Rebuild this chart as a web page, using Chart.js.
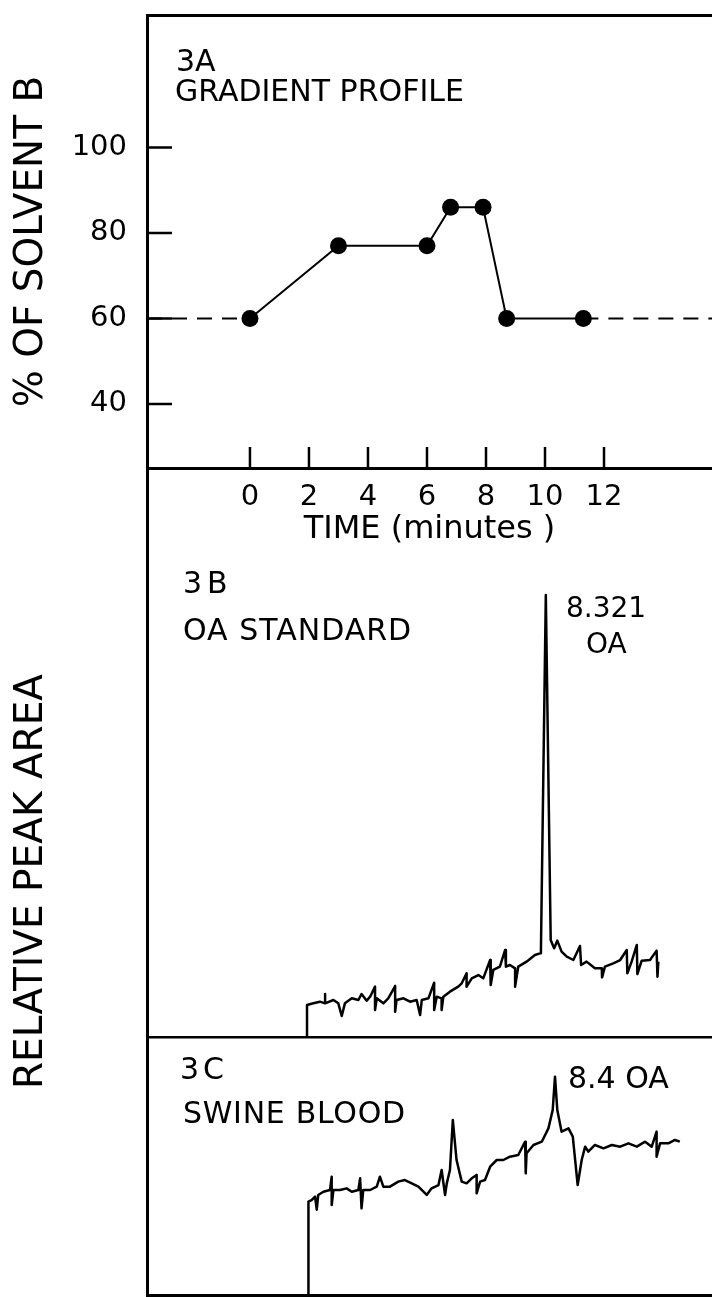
<!DOCTYPE html>
<html>
<head>
<meta charset="utf-8">
<title>Gradient profile and chromatograms</title>
<script src="https://cdn.jsdelivr.net/npm/chart.js@4.4.1/dist/chart.umd.min.js"></script>
<style>
  body { margin: 0; background: #fff; width: 712px; height: 1297px; overflow: hidden; position: relative;
         font-family: 'DejaVu Sans', sans-serif; color: #000; }
  canvas { position: absolute; left: 0; }
  #gradChart { top: 0; }
  #peakChart { top: 468px; }
  .lbl { position: absolute; font-size: 30px; line-height: 30px; white-space: nowrap; }
  .sm { font-size: 28px; line-height: 28px; }
</style>
</head>
<body>
<canvas id="gradChart" width="712" height="560"></canvas>
<canvas id="peakChart" width="712" height="829"></canvas>

<div class="lbl" style="left:176px;top:46px">3A</div>
<div class="lbl" style="left:175px;top:76px">GRADIENT PROFILE</div>
<div class="lbl" style="left:183px;top:568px;letter-spacing:5px">3B</div>
<div class="lbl" style="left:183px;top:615px;letter-spacing:1px">OA STANDARD</div>
<div class="lbl sm" style="left:566px;top:594px">8.321</div>
<div class="lbl sm" style="left:586px;top:630px">OA</div>
<div class="lbl" style="left:180px;top:1054px;letter-spacing:4px">3C</div>
<div class="lbl" style="left:183px;top:1098px;letter-spacing:0.7px">SWINE BLOOD</div>
<div class="lbl" style="left:568px;top:1063px">8.4 OA</div>

<script>
'use strict';
// panel 3A - gradient profile
let gradTime = [0, 3.0, 6.0, 6.8, 7.9, 8.7, 11.3];
let gradPct = [60, 77, 77, 86, 86, 60, 60];
let holdPct = 60;
let holdBefore = [-3.49, 0];
let holdAfter = [11.3, 15.66];
let xTickValues = [0, 2, 4, 6, 8, 10, 12];
let yTickValues = [40, 60, 80, 100];

// panel 3B - OA standard chromatogram (minutes, relative response)
let stdTime = [0.00, 0.00, 0.22, 0.45, 0.63, 0.63, 0.63, 0.92, 1.09, 1.21, 1.32, 1.56, 1.79, 1.90, 2.08, 2.20,
  2.37, 2.37, 2.43, 2.66, 2.83, 3.07, 3.07, 3.12, 3.36, 3.59, 3.82, 3.94, 4.00, 4.23, 4.43, 4.43, 4.52, 4.69,
  4.69, 4.75, 4.98, 5.27, 5.39, 5.56, 5.56, 5.74, 5.97, 6.14, 6.38, 6.40, 6.49, 6.72, 6.90, 6.93, 7.07, 7.25,
  7.25, 7.36, 7.65, 7.94, 8.12, 8.15, 8.32, 8.49, 8.61, 8.72, 8.87, 9.05, 9.28, 9.51, 9.55, 9.74, 10.03, 10.27,
  10.28, 10.38, 10.67, 10.91, 11.14, 11.16, 11.31, 11.49, 11.51, 11.66, 11.95, 12.18, 12.21, 12.24];
let stdResp = [0, 5.64, 5.94, 6.23, 5.94, 7.58, 5.94, 6.53, 5.94, 3.70, 5.94, 6.82, 6.53, 7.58, 6.41, 7.11,
  8.88, 4.76, 6.82, 5.94, 6.82, 8.99, 4.47, 6.53, 6.82, 6.23, 6.53, 3.88, 6.53, 6.82, 9.58, 4.76, 7.11, 6.82,
  4.76, 7.11, 8.00, 8.88, 9.47, 11.23, 8.88, 10.35, 10.93, 10.35, 13.58, 9.17, 11.82, 12.41, 15.34, 12.41, 12.70, 12.11,
  8.88, 12.41, 13.29, 14.46, 14.76, 15.34, 77.95, 17.11, 15.64, 16.99, 15.05, 14.17, 13.58, 16.05, 12.70, 13.29, 12.11, 12.11,
  10.52, 12.41, 12.99, 13.58, 15.34, 11.23, 13.29, 16.23, 11.11, 13.46, 13.58, 15.23, 10.64, 13.29];

// panel 3C - swine blood chromatogram
let bloodTime = [0.05, 0.05, 0.16, 0.28, 0.34, 0.39, 0.57, 0.80, 0.86, 0.86, 0.92, 1.15, 1.38, 1.56, 1.79, 1.85,
  1.90, 1.96, 2.20, 2.43, 2.54, 2.66, 2.89, 3.18, 3.41, 3.65, 3.88, 4.17, 4.34, 4.58, 4.69, 4.81, 4.87, 4.98,
  5.08, 5.21, 5.39, 5.56, 5.74, 5.91, 5.91, 6.03, 6.20, 6.38, 6.61, 6.84, 7.07, 7.36, 7.60, 7.62, 7.65, 7.89,
  8.18, 8.41, 8.56, 8.64, 8.72, 8.87, 9.11, 9.26, 9.43, 9.57, 9.69, 9.80, 10.03, 10.33, 10.62, 10.91, 11.20, 11.49,
  11.78, 12.01, 12.18, 12.18, 12.30, 12.59, 12.82, 12.99];
let bloodResp = [0, 16.46, 16.75, 17.34, 15.05, 17.64, 18.22, 18.52, 20.87, 15.87, 18.52, 18.52, 18.81, 18.22, 18.52, 20.58,
  15.28, 18.52, 18.52, 19.11, 20.87, 19.11, 19.11, 19.99, 20.28, 19.69, 19.11, 17.64, 18.81, 19.40, 22.05, 17.64, 19.69, 22.05,
  30.86, 23.81, 19.99, 19.69, 20.58, 21.16, 17.93, 19.99, 20.28, 22.63, 23.81, 23.81, 24.40, 24.69, 27.04, 21.46, 24.99, 26.46,
  27.04, 29.39, 32.63, 38.51, 32.63, 28.81, 29.39, 27.92, 19.40, 23.81, 26.16, 25.28, 26.46, 25.87, 26.46, 26.16, 26.75, 26.16,
  27.04, 26.16, 28.81, 24.40, 26.75, 26.75, 27.34, 27.04];

Chart.defaults.font.family = "'DejaVu Sans', sans-serif";
Chart.defaults.color = '#000';

function points(xs, ys) {
  return xs.map((x, i) => ({ x: x, y: ys[i] }));
}

// stop the scales from reserving room for half-labels at the ends
function noEdgePad(s) {
  s.paddingTop = 0;
  s.paddingBottom = 0;
  s.paddingLeft = 0;
  s.paddingRight = 0;
}

// tick marks in the reference point into the plot, so draw them from the scales
const innerTicks = {
  id: 'innerTicks',
  afterDraw(chart) {
    const { ctx, chartArea, scales } = chart;
    ctx.save();
    ctx.strokeStyle = '#000';
    ctx.lineWidth = 2.5;
    ctx.beginPath();
    scales.x.ticks.forEach(t => {
      const px = scales.x.getPixelForValue(t.value);
      ctx.moveTo(px, chartArea.bottom);
      ctx.lineTo(px, chartArea.bottom - 21);
    });
    scales.y.ticks.forEach(t => {
      const py = scales.y.getPixelForValue(t.value);
      ctx.moveTo(chartArea.left, py);
      ctx.lineTo(chartArea.left + 25, py);
    });
    ctx.stroke();
    ctx.restore();
  }
};

let axisBorder = { display: true, color: '#000', width: 3 };

new Chart(document.getElementById('gradChart'), {
  type: 'line',
  data: {
    datasets: [
      { data: points(gradTime, gradPct), borderColor: '#000', borderWidth: 2, tension: 0,
        pointRadius: 8.5, pointBackgroundColor: '#000', pointBorderWidth: 0 },
      { data: points(holdBefore, [holdPct, holdPct]), borderColor: '#000', borderWidth: 2,
        borderDash: [15, 10], pointRadius: 0 },
      { data: points(holdAfter, [holdPct, holdPct]), borderColor: '#000', borderWidth: 2,
        borderDash: [15, 10], pointRadius: 0 }
    ]
  },
  options: {
    responsive: false,
    animation: false,
    devicePixelRatio: 1,
    layout: { padding: { top: 15, left: 0, right: 0, bottom: 0 }, autoPadding: false },
    plugins: { legend: { display: false }, tooltip: { enabled: false } },
    scales: {
      x: {
        type: 'linear', position: 'bottom', min: -3.49, max: 15.66,
        grid: { display: false, drawTicks: false },
        border: axisBorder,
        afterBuildTicks: s => { s.ticks = xTickValues.map(v => ({ value: v })); },
        afterFit: s => { s.height = 92; noEdgePad(s); },
        ticks: { font: { size: 29 }, padding: 12, maxRotation: 0, autoSkip: false },
        title: { display: true, text: 'TIME (minutes )', font: { size: 32 }, padding: { top: 0, bottom: 11 } }
      },
      xTop: {
        type: 'linear', position: 'top', min: 0, max: 1,
        grid: { display: false, drawTicks: false },
        ticks: { display: false },
        border: axisBorder,
        afterFit: s => { s.height = 0; noEdgePad(s); }
      },
      y: {
        type: 'linear', position: 'left', min: 25, max: 131,
        grid: { display: false, drawTicks: false },
        border: axisBorder,
        afterBuildTicks: s => { s.ticks = yTickValues.map(v => ({ value: v })); },
        afterFit: s => { s.width = 147; noEdgePad(s); },
        ticks: { font: { size: 29 }, padding: 20 },
        title: { display: true, text: '% OF SOLVENT B', font: { size: 39 }, padding: { top: 8, bottom: 0 } }
      }
    }
  },
  plugins: [innerTicks]
});

// panels 3B and 3C share one canvas: two response axes over the same area
new Chart(document.getElementById('peakChart'), {
  type: 'line',
  data: {
    datasets: [
      { data: points(stdTime, stdResp), yAxisID: 'yB', borderColor: '#000', borderWidth: 2.5,
        borderJoinStyle: 'round', pointRadius: 0, tension: 0 },
      { data: points(bloodTime, bloodResp), yAxisID: 'yC', borderColor: '#000', borderWidth: 2.5,
        borderJoinStyle: 'round', pointRadius: 0, tension: 0 }
    ]
  },
  options: {
    responsive: false,
    animation: false,
    devicePixelRatio: 1,
    layout: { padding: 0, autoPadding: false },
    plugins: { legend: { display: false }, tooltip: { enabled: false } },
    scales: {
      x: {
        type: 'linear', position: 'bottom', min: -5.575, max: 14.11,
        grid: { display: false, drawTicks: false },
        ticks: { display: false },
        border: axisBorder,
        afterFit: s => { s.height = 2; noEdgePad(s); }
      },
      yB: {
        type: 'linear', position: 'left', min: -45.5, max: 100.35,
        grid: { display: true, drawTicks: false, color: '#000', lineWidth: 2.5 },
        ticks: { display: false },
        border: axisBorder,
        afterBuildTicks: s => { s.ticks = [{ value: 0 }]; },
        afterFit: s => { s.width = 147; noEdgePad(s); },
        title: { display: true, text: 'RELATIVE PEAK AREA', font: { size: 39 }, padding: { top: 8, bottom: 0 } }
      },
      yC: {
        type: 'linear', position: 'left', display: false, min: 0, max: 145.86
      }
    }
  }
});
</script>
</body>
</html>
